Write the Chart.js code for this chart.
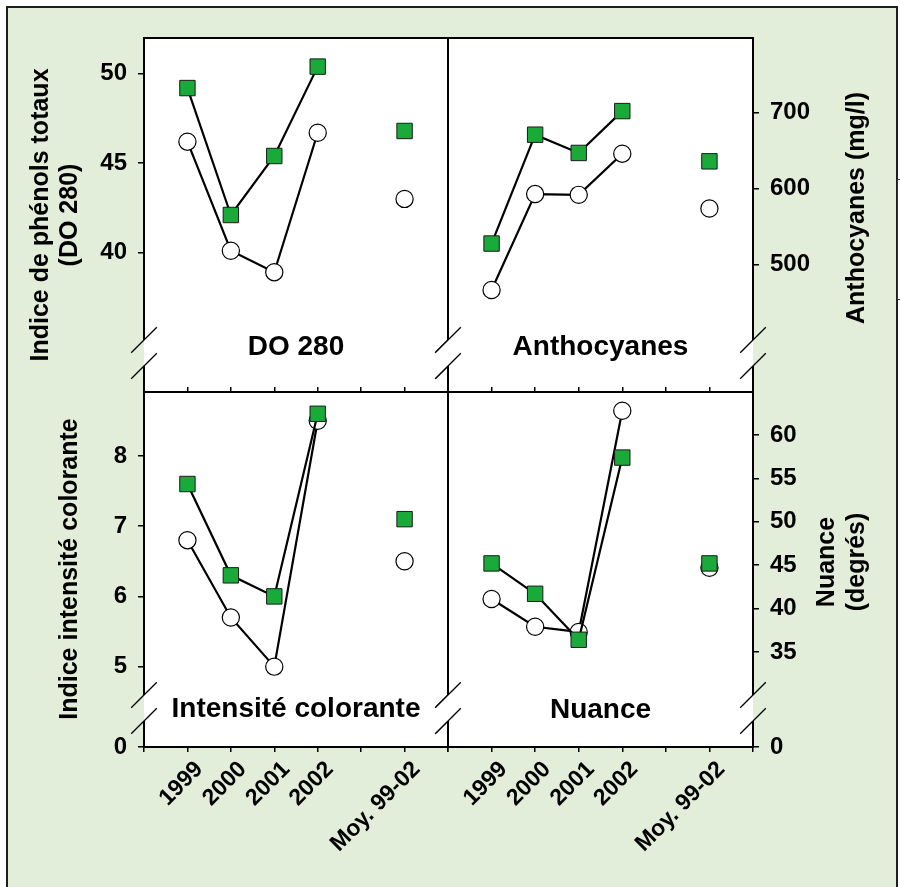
<!DOCTYPE html>
<html>
<head>
<meta charset="utf-8">
<script src="https://cdn.jsdelivr.net/npm/chart.js@4.4.0/dist/chart.umd.min.js"></script>
<style>
html,body{margin:0;padding:0;background:#fff;}
#wrap{position:relative;width:900px;height:887px;overflow:hidden;background:#fff;}
#frame{position:absolute;left:6px;top:6px;width:892px;height:920px;border:2px solid #1e1e1e;background:#E3EEDA;box-sizing:border-box;}
#stub{position:absolute;left:897px;top:179px;width:12px;height:121px;border:1px solid #333;box-sizing:border-box;background:#fff;}
canvas{position:absolute;left:0;top:0;}
</style>
</head>
<body>
<div id="wrap">
  <div id="frame"></div>
  <div id="stub"></div>
  <canvas id="cTL" width="900" height="887"></canvas>
  <canvas id="cTR" width="900" height="887"></canvas>
  <canvas id="cBL" width="900" height="887"></canvas>
  <canvas id="cBR" width="900" height="887"></canvas>
</div>
<script>
// ---------- data ----------
const xLabels = ['1999', '2000', '2001', '2002', 'Moy. 99-02'];

const do280Squares = [49.2, 42.1, 45.4, 50.4, 46.8];
const do280Circles = [46.2, 40.1, 38.9, 46.7, 43.0];

const anthoSquares = [528, 671, 647, 702, 636];
const anthoCircles = [467, 593, 592, 646, 574];

const intensSquares = [7.6, 6.3, 6.0, 8.6, 7.1];
const intensCircles = [6.8, 5.7, 5.0, 8.5, 6.5];

const nuanceSquares = [45.2, 41.7, 36.4, 57.4, 45.2];
const nuanceCircles = [41.1, 37.9, 37.3, 62.8, 44.7];

const do280TickLabels  = ['40', '45', '50'];
const anthoTickLabels  = ['500', '600', '700'];
const intensTickLabels = ['0', '5', '6', '7', '8'];
const nuanceTickLabels = ['0', '35', '40', '45', '50', '55', '60'];

const panelTitles = ['DO 280', 'Anthocyanes', 'Intensité colorante', 'Nuance'];
const axisTitles = {
  do280: ['Indice de phénols totaux', '(DO 280)'],
  antho: ['Anthocyanes (mg/l)'],
  intens: ['Indice intensité colorante'],
  nuance: ['Nuance', '(degrés)']
};

// ---------- helpers ----------
const FONT = "'Liberation Sans', Arial, sans-serif";
const BG = '#E3EEDA';
const GREEN = '#1AAA3A';

// category slots: edge, 4 years, empty slot, mean, edge
const catLabels = ['', xLabels[0], xLabels[1], xLabels[2], xLabels[3], '', xLabels[4], ''];
function toSlots(v) { return [null, v[0], v[1], v[2], v[3], null, v[4], null]; }

const panelDeco = {
  id: 'panelDeco',
  beforeDraw(chart, args, o) {
    const a = chart.chartArea, ctx = chart.ctx;
    ctx.save();
    ctx.fillStyle = '#fff';
    ctx.fillRect(a.left, a.top, a.right - a.left, a.bottom - a.top);
    ctx.restore();
  },
  afterDraw(chart, args, o) {
    const a = chart.chartArea, ctx = chart.ctx;
    ctx.save();
    ctx.strokeStyle = '#000';
    ctx.lineWidth = 2;
    ctx.strokeRect(a.left, a.top, a.right - a.left, a.bottom - a.top);
    // axis breaks
    const ys = [a.bottom - 52, a.bottom - 26];
    const sides = [{x: a.left, outer: o.leftOuter}, {x: a.right, outer: o.rightOuter}];
    sides.forEach(s => {
      ctx.beginPath();
      ctx.moveTo(s.x - 12.8, ys[0] + 12.7);
      ctx.lineTo(s.x + 12.8, ys[0] - 12.7);
      ctx.lineTo(s.x + 12.8, ys[1] - 12.7);
      ctx.lineTo(s.x - 12.8, ys[1] + 12.7);
      ctx.closePath();
      ctx.save();
      ctx.clip();
      if (s.outer) {
        const inLeft = s.x === a.left;
        ctx.fillStyle = BG;
        ctx.fillRect(inLeft ? s.x - 14 : s.x, ys[0] - 14, 14, 60);
        ctx.fillStyle = '#fff';
        ctx.fillRect(inLeft ? s.x : s.x - 14, ys[0] - 14, 14, 60);
      } else {
        ctx.fillStyle = '#fff';
        ctx.fillRect(s.x - 14, ys[0] - 14, 28, 60);
      }
      ctx.restore();
      ctx.strokeStyle = '#000';
      ctx.lineWidth = 1.3;
      ys.forEach(y => {
        ctx.beginPath();
        ctx.moveTo(s.x - 12.8, y + 12.7);
        ctx.lineTo(s.x + 12.8, y - 12.7);
        ctx.stroke();
      });
    });
    // panel label
    ctx.fillStyle = '#000';
    ctx.font = 'bold 28px ' + FONT;
    ctx.textAlign = 'center';
    ctx.textBaseline = 'alphabetic';
    ctx.fillText(o.label, (a.left + a.right) / 2, a.bottom - o.labelDrop);
    // axis title (reads bottom to top)
    ctx.font = 'bold 25px ' + FONT;
    ctx.textBaseline = 'middle';
    o.title.forEach((t, i) => {
      ctx.save();
      ctx.translate(o.titleX[i], o.titleY);
      ctx.rotate(-Math.PI / 2);
      ctx.fillText(t, 0, 0);
      ctx.restore();
    });
    ctx.restore();
  }
};

function makePanel(id, s) {
  const left = s.yPos === 'left';
  const yWidth = left ? s.area.l : 900 - s.area.r;
  const xHeight = s.showX ? 887 - s.area.b : 0;
  const tickVals = s.tickVals;
  new Chart(document.getElementById(id), {
    type: 'line',
    data: {
      labels: catLabels,
      datasets: [
        {
          data: toSlots(s.squares),
          borderColor: '#000', borderWidth: 2.2, tension: 0, spanGaps: false,
          pointStyle: 'rect', pointRadius: 10.9, pointBackgroundColor: GREEN,
          pointBorderColor: '#1a1a1a', pointBorderWidth: 1
        },
        {
          data: toSlots(s.circles),
          borderColor: '#000', borderWidth: 2.2, tension: 0, spanGaps: false,
          pointStyle: 'circle', pointRadius: 8.6, pointBackgroundColor: '#fff',
          pointBorderColor: '#000', pointBorderWidth: 1.2
        }
      ]
    },
    options: {
      responsive: false, animation: false, devicePixelRatio: 1,
      events: [],
      layout: {
        padding: {
          left: left ? 0 : s.area.l,
          right: left ? 900 - s.area.r : 0,
          top: s.area.t,
          bottom: s.showX ? 0 : 887 - s.area.b
        }
      },
      plugins: {
        legend: {display: false},
        tooltip: {enabled: false},
        panelDeco: {
          label: s.label, labelDrop: s.labelDrop,
          title: s.title, titleX: s.titleX, titleY: s.titleY,
          leftOuter: left, rightOuter: !left
        }
      },
      scales: {
        x: {
          type: 'category', offset: false, position: 'bottom',
          border: {display: false},
          grid: {drawOnChartArea: false, drawTicks: true, tickLength: s.showX ? 5 : -5, color: '#000', lineWidth: 1.5},
          ticks: {
            display: s.showX, autoSkip: false, minRotation: 45, maxRotation: 45,
            padding: 4, labelOffset: 12, color: '#000',
            font: {family: FONT, size: 23, weight: 'bold'}
          },
          afterFit: sc => { sc.height = xHeight; }
        },
        y: {
          position: s.yPos, min: s.min, max: s.max,
          border: {display: false},
          grid: {drawOnChartArea: false, drawTicks: true, tickLength: 6, color: '#000', lineWidth: 1.5},
          afterBuildTicks: sc => { sc.ticks = tickVals.map(v => ({value: v})); },
          ticks: {
            color: '#000', padding: 11,
            font: {family: FONT, size: 24, weight: 'bold'},
            callback: (v, i) => s.tickLabels[i]
          },
          afterFit: sc => { sc.width = yWidth; }
        }
      }
    },
    plugins: [panelDeco]
  });
}

// top-left : DO 280
makePanel('cTL', {
  area: {l: 144, t: 38, r: 448, b: 392}, yPos: 'left', showX: false,
  min: 32.2, max: 52, tickVals: [40, 45, 50], tickLabels: do280TickLabels,
  squares: do280Squares, circles: do280Circles,
  label: panelTitles[0], labelDrop: 37,
  title: axisTitles.do280, titleX: [41, 70], titleY: 215
});
// top-right : Anthocyanes
makePanel('cTR', {
  area: {l: 448, t: 38, r: 753, b: 392}, yPos: 'right', showX: false,
  min: 333, max: 798, tickVals: [500, 600, 700], tickLabels: anthoTickLabels,
  squares: anthoSquares, circles: anthoCircles,
  label: panelTitles[1], labelDrop: 37,
  title: axisTitles.antho, titleX: [857], titleY: 208
});
// bottom-left : Intensité colorante
makePanel('cBL', {
  area: {l: 144, t: 392, r: 448, b: 747}, yPos: 'left', showX: true,
  min: 3.856, max: 8.91, tickVals: [3.856, 5, 6, 7, 8], tickLabels: intensTickLabels,
  squares: intensSquares, circles: intensCircles,
  label: panelTitles[2], labelDrop: 30,
  title: axisTitles.intens, titleX: [70], titleY: 569
});
// bottom-right : Nuance
makePanel('cBR', {
  area: {l: 448, t: 392, r: 753, b: 747}, yPos: 'right', showX: true,
  min: 24.04, max: 64.96, tickVals: [24.04, 35, 40, 45, 50, 55, 60], tickLabels: nuanceTickLabels,
  squares: nuanceSquares, circles: nuanceCircles,
  label: panelTitles[3], labelDrop: 29,
  title: axisTitles.nuance, titleX: [827, 857], titleY: 562
});
</script>
</body>
</html>
